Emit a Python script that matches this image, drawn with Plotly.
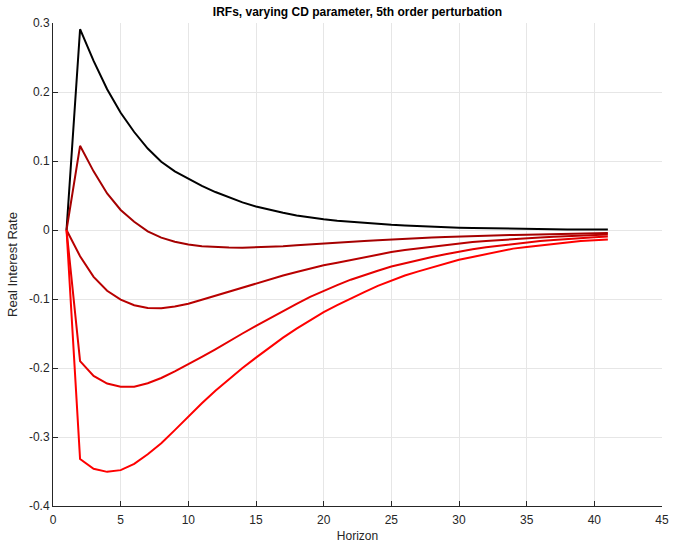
import plotly.graph_objects as go

# Impulse responses of the real interest rate, horizons 1..41
horizon = list(range(1, 42))

irf_1 = [0, 0.291, 0.245, 0.204, 0.170, 0.142, 0.118, 0.099, 0.085, 0.074,
         0.064, 0.055, 0.047, 0.040, 0.034, 0.029, 0.025, 0.021, 0.018, 0.0155,
         0.0135, 0.0118, 0.0102, 0.0088, 0.0075, 0.0065, 0.0055, 0.0047, 0.0040, 0.0034,
         0.0029, 0.0025, 0.0021, 0.0018, 0.0015, 0.0013, 0.0011, 0.0009, 0.0008, 0.0007,
         0.0006]
irf_2 = [0, 0.122, 0.085, 0.053, 0.029, 0.012, -0.002, -0.011, -0.017, -0.021,
         -0.0235, -0.0248, -0.0255, -0.0256, -0.0252, -0.0245, -0.0235, -0.0222, -0.0208, -0.0196,
         -0.0184, -0.0172, -0.0161, -0.0150, -0.0138, -0.0128, -0.0119, -0.0110, -0.0101, -0.0093,
         -0.0088, -0.0082, -0.0077, -0.0072, -0.0068, -0.0063, -0.0059, -0.0055, -0.0052, -0.0048,
         -0.0045]
irf_3 = [0, -0.038, -0.068, -0.088, -0.101, -0.109, -0.113, -0.1135, -0.111, -0.107,
         -0.101, -0.095, -0.089, -0.0835, -0.0775, -0.072, -0.066, -0.061, -0.0555, -0.051,
         -0.0475, -0.0435, -0.0395, -0.0355, -0.032, -0.029, -0.0265, -0.024, -0.0215, -0.019,
         -0.0175, -0.016, -0.0145, -0.013, -0.0118, -0.0108, -0.0098, -0.0088, -0.008, -0.0072,
         -0.0065]
irf_4 = [0, -0.190, -0.2115, -0.2225, -0.227, -0.227, -0.222, -0.2145, -0.205, -0.195,
         -0.184, -0.173, -0.161, -0.150, -0.139, -0.128, -0.117, -0.107, -0.097, -0.088,
         -0.080, -0.072, -0.065, -0.059, -0.053, -0.048, -0.043, -0.039, -0.035, -0.031,
         -0.028, -0.025, -0.0225, -0.020, -0.018, -0.016, -0.0145, -0.013, -0.0118, -0.0106,
         -0.0096]
irf_5 = [0, -0.332, -0.346, -0.3505, -0.348, -0.339, -0.325, -0.309, -0.290, -0.270,
         -0.251, -0.233, -0.216, -0.200, -0.185, -0.170, -0.156, -0.143, -0.131, -0.119,
         -0.109, -0.099, -0.090, -0.081, -0.073, -0.066, -0.060, -0.054, -0.048, -0.043,
         -0.039, -0.035, -0.031, -0.027, -0.0245, -0.022, -0.020, -0.018, -0.016, -0.0145,
         -0.0138]

series = [irf_1, irf_2, irf_3, irf_4, irf_5]
colors = ["#000000", "#A50000", "#B80000", "#E60000", "#FF0000"]

x_ticks = list(range(0, 46, 5))
y_ticks = [-0.4, -0.3, -0.2, -0.1, 0, 0.1, 0.2, 0.3]
y_tick_text = ["-0.4", "-0.3", "-0.2", "-0.1", "0", "0.1", "0.2", "0.3"]

fig = go.Figure()
for values, color in zip(series, colors):
    fig.add_trace(go.Scatter(x=horizon, y=values, mode="lines",
                             line=dict(color=color, width=2),
                             showlegend=False, hoverinfo="skip"))

font_family = "Liberation Sans, Arial, sans-serif"
axis_color = "#262626"
grid_color = "#e6e6e6"

fig.update_layout(
    width=673, height=543,
    margin=dict(l=53, r=11, t=23, b=37),
    paper_bgcolor="white", plot_bgcolor="white",
    font=dict(family=font_family, size=12, color=axis_color),
    title=dict(text="<b>IRFs, varying CD parameter, 5th order perturbation</b>",
               x=(53 + 662) / 2 / 673, xanchor="center",
               y=1 - 12 / 543, yanchor="middle",
               font=dict(size=12, color="#000000")),
    xaxis=dict(range=[0, 45], tickvals=x_ticks, showgrid=True, gridcolor=grid_color,
               gridwidth=1, zeroline=False, showline=True, linecolor=axis_color,
               linewidth=1, ticks="inside", ticklen=5, tickcolor=axis_color,
               ticklabelstandoff=3, automargin=False,
               tickfont=dict(size=12, color=axis_color),
               title=dict(text="Horizon", font=dict(size=12, color=axis_color), standoff=8)),
    yaxis=dict(range=[-0.4, 0.3], tickvals=y_ticks, ticktext=y_tick_text, showgrid=True,
               gridcolor=grid_color, gridwidth=1, zeroline=False, showline=True,
               linecolor=axis_color, linewidth=1, ticks="inside", ticklen=5,
               tickcolor=axis_color, tickfont=dict(size=12, color=axis_color),
               automargin=False,
               title=dict(text="Real Interest Rate", font=dict(size=13, color=axis_color),
                          standoff=8)),
)

fig.write_html("out.html")
